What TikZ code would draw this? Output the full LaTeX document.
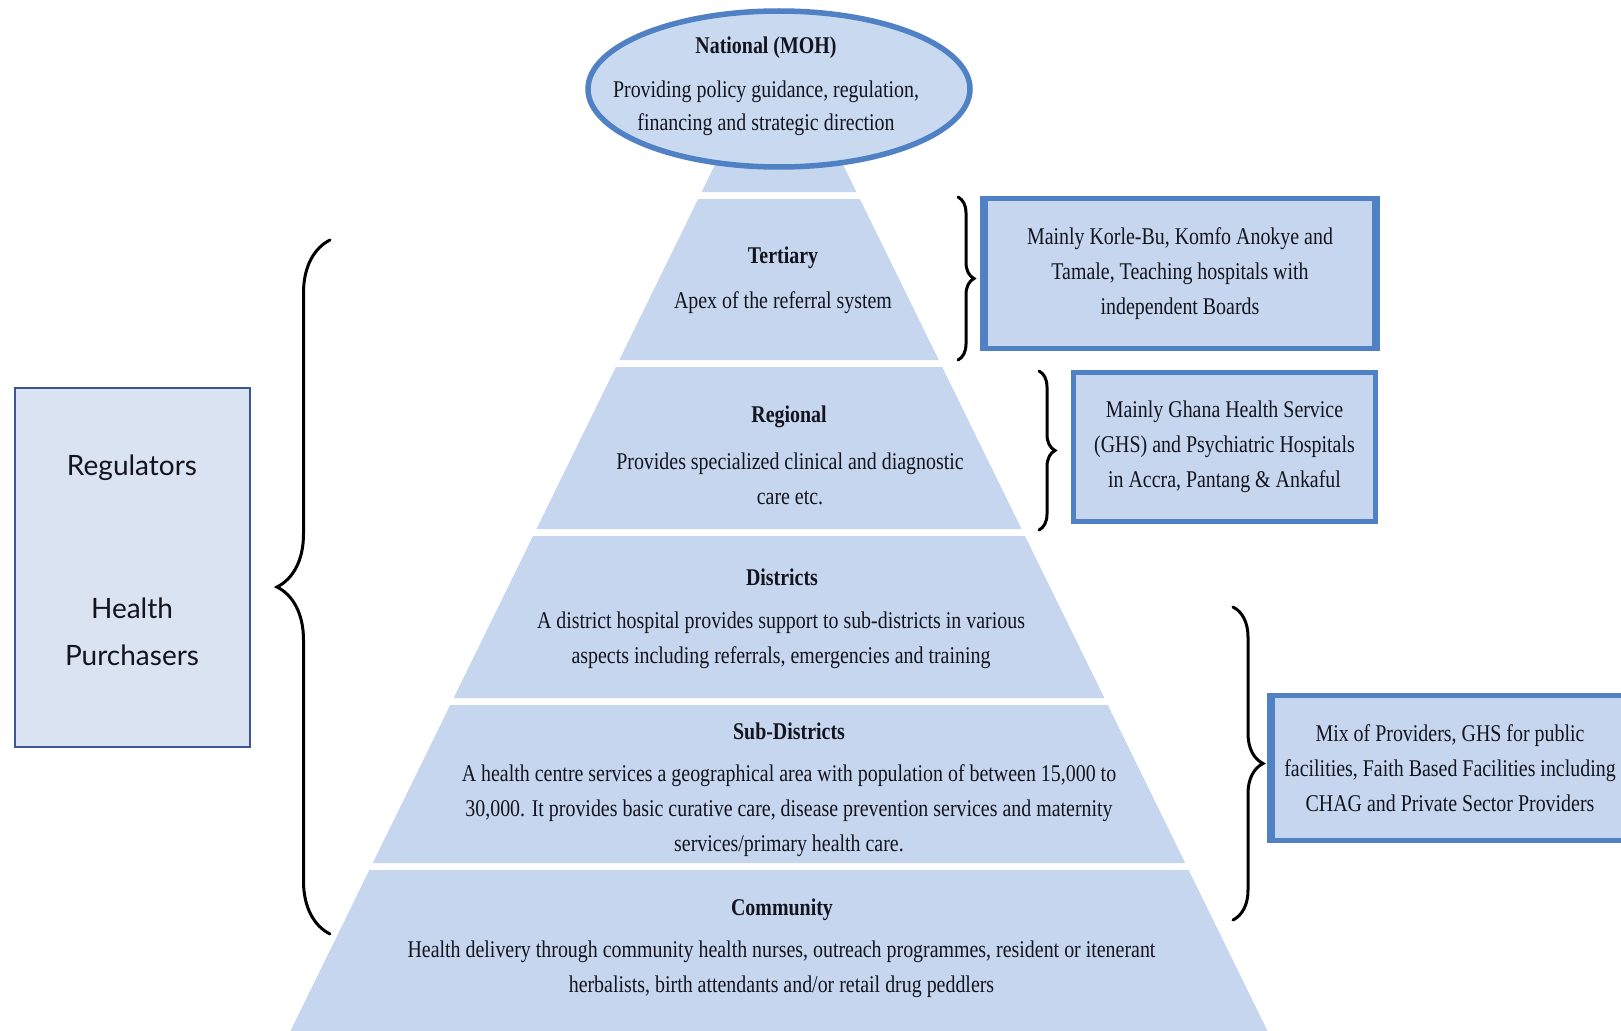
\documentclass[tikz,border=0pt]{standalone}
\usepackage{fontspec}
\setmainfont{Liberation Serif}[FakeStretch=0.83]
\newfontfamily\gillfont{Lato}
\usetikzlibrary{shapes.geometric, decorations.pathreplacing}

\definecolor{bandblue}{RGB}{197,214,238}
\definecolor{ellblue}{RGB}{201,218,240}
\definecolor{edgeblue}{RGB}{79,129,196}
\definecolor{paleblue}{RGB}{218,227,241}
\definecolor{navyline}{RGB}{58,88,150}
\definecolor{inkgrey}{RGB}{20,20,30}

\tikzset{
  band/.style={fill=bandblue},
  tier/.style={font=\fontsize{24}{35}\selectfont\bfseries, text=inkgrey, inner sep=0pt},
  tiertext/.style={font=\fontsize{24}{35}\selectfont, text=inkgrey, align=center, inner sep=0pt},
  sidebox/.style={draw=edgeblue, line width=4.5pt, fill=bandblue, align=center,
    font=\fontsize{24}{35}\selectfont, text=inkgrey, inner sep=0pt},
  sidebar/.style={draw=edgeblue, line width=8pt},
  sidefont/.style={font=\gillfont\fontsize{28}{47}\selectfont, text=inkgrey, align=center, inner sep=0pt},
  curly/.style={decorate, decoration={brace, amplitude=#1}, line width=3pt, line cap=round},
}

\begin{document}
\begin{tikzpicture}[x=1pt, y=-1pt]
    \useasboundingbox (0,0) rectangle (1621,1030);
    \clip (0,0) rectangle (1621,1030);

    % Pyramid: one triangle cut in bands (apex near y=34)
    \foreach \ya/\yb in {120/192, 199/360, 367/529, 536/698, 705/863, 870/1040}
        \fill[band] ({779-0.49*(\ya-34)},\ya) -- ({779+0.49*(\ya-34)},\ya)
            -- ({779+0.49*(\yb-34)},\yb) -- ({779-0.49*(\yb-34)},\yb) -- cycle;

    % National level on top
    \node[ellipse, draw=edgeblue, line width=5.5pt, fill=ellblue, inner sep=0pt,
        minimum width=382pt, minimum height=156pt] (natl) at (779,89) {};
    \node[tier] (natlttl) at (766,48) {National (MOH)};
    \node[tiertext, font=\fontsize{24}{33}\selectfont] (natlbody) at (766,108.5)
        {Providing policy guidance, regulation,\\financing and strategic direction};

    % Tiers of the pyramid
    \node[tier] (tertttl) at (783,258) {Tertiary};
    \node[tiertext] (tertbody) at (783,303) {Apex of the referral system};

    \node[tier] (regttl) at (789,417) {Regional};
    \node[tiertext] (regbody) at (790,478.5) {Provides specialized clinical and diagnostic\\care etc.};

    \node[tier] (distttl) at (782,577) {Districts};
    \node[tiertext] (distbody) at (781,640)
        {A district hospital provides support to sub-districts in various\\aspects including referrals, emergencies and training};

    \node[tier] (subttl) at (789,731) {Sub-Districts};
    \node[tiertext] (subbody) at (789,811)
        {A health centre services a geographical area with population of between 15,000 to\\30,000. It provides basic curative care, disease prevention services and maternity\\services/primary health care.};

    \node[tier] (commttl) at (782,910) {Community};
    \node[tiertext] (commbody) at (781.5,969)
        {Health delivery through community health nurses, outreach programmes, resident or itenerant\\herbalists, birth attendants and/or retail drug peddlers};

    % Boxes on the right
    \node[sidebox, minimum width=391pt, minimum height=150pt] (tertbox) at (1180,273.5)
        {Mainly Korle-Bu, Komfo Anokye and\\Tamale, Teaching hospitals with\\independent Boards};
    \node[sidebox, minimum width=302pt, minimum height=149pt] (regbox) at (1224.5,447)
        {Mainly Ghana Health Service\\(GHS) and Psychiatric Hospitals\\in Accra, Pantang \& Ankaful};
    \node[sidebox, minimum width=355pt, minimum height=145pt] (mixbox) at (1450,768)
        {Mix of Providers, GHS for public\\facilities, Faith Based Facilities including\\CHAG and Private Sector Providers};
    % heavier side edges
    \draw[sidebar] ([xshift=2pt]tertbox.north west) -- ([xshift=2pt]tertbox.south west);
    \draw[sidebar] ([xshift=-2pt]tertbox.north east) -- ([xshift=-2pt]tertbox.south east);
    \draw[sidebar] ([xshift=1pt]mixbox.north west) -- ([xshift=1pt]mixbox.south west);

    % Box on the left
    \node[draw=navyline, line width=2.5pt, fill=paleblue, minimum width=235pt,
        minimum height=359pt] (actors) at (132.5,567.5) {};
    \node[sidefont] (regul) at (132,468) {Regulators};
    \node[sidefont] (purch) at (132,632) {Health\\Purchasers};

    % Braces
    \draw[curly=16] (958,197) -- (958,360);
    \draw[curly=16] (1039,371) -- (1039,530);
    \draw[curly=30] (1233,607) -- (1233,920);
    \draw[curly=53] (330,934) -- (330,240);
\end{tikzpicture}
\end{document}
